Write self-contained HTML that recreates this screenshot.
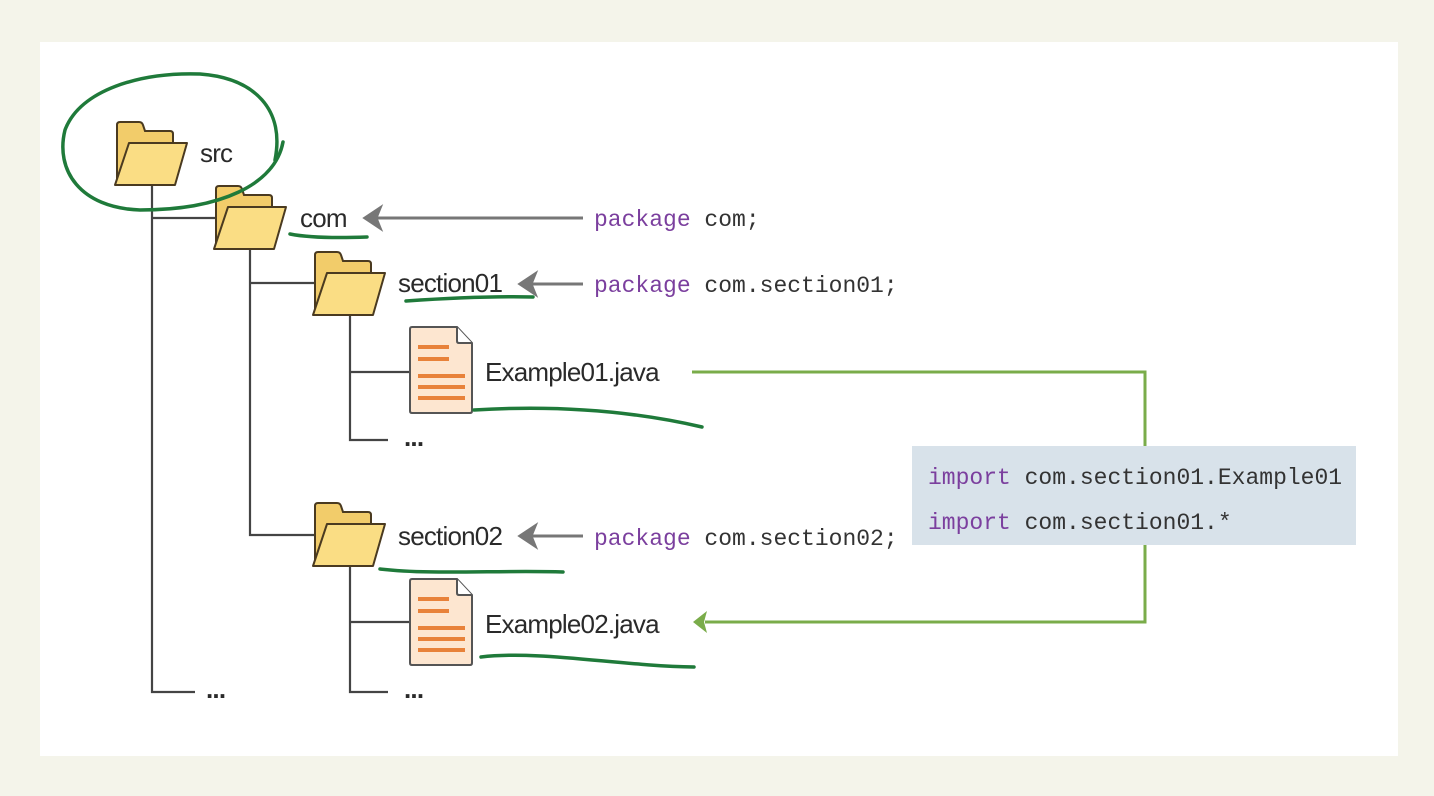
<!DOCTYPE html>
<html><head><meta charset="utf-8"><style>
html,body{margin:0;padding:0;background:#f4f4ea;}
svg{display:block}
.lb{font-family:"Liberation Sans",sans-serif;font-size:26px;fill:#2a2a2a;letter-spacing:-0.8px}
.cd{font-family:"Liberation Mono",monospace;font-size:23px;fill:#333}
.kw{fill:#7b3f9e}
</style></head><body>
<svg width="1434" height="796" viewBox="0 0 1434 796" xmlns="http://www.w3.org/2000/svg">
<defs>
<g id="fold">
<path d="M2 3 Q2 0 5 0 L24 0 Q27 0 28 3 L30 9 L55 9 Q58 9 58 12 L58 60 L2 60 Z" fill="#f2cc6a" stroke="#4a3a20" stroke-width="2"/>
<path d="M14 21 L72 21 L60 63 L0 63 Z" fill="#fadd84" stroke="#4a3a20" stroke-width="2" stroke-linejoin="round"/>
</g>
<g id="file">
<path d="M3 0 L48 0 L63 16 L63 84 Q63 86 61 86 L3 86 Q1 86 1 84 L1 2 Q1 0 3 0 Z" fill="#fde6d0" stroke="#555" stroke-width="2"/>
<path d="M48 0 L48 14 Q48 16 50 16 L63 16" fill="#fff" stroke="#555" stroke-width="2"/>
<g stroke="#e8823a" stroke-width="4">
<line x1="9" y1="20" x2="40" y2="20"/><line x1="9" y1="32" x2="40" y2="32"/>
<line x1="9" y1="49" x2="56" y2="49"/><line x1="9" y1="60" x2="56" y2="60"/><line x1="9" y1="71" x2="56" y2="71"/>
</g>
</g>
</defs>
<rect x="40" y="42" width="1358" height="714" fill="#fff"/>
<g stroke="#444" stroke-width="2.2" fill="none">
<path d="M152 184 V692 H195"/>
<path d="M152 218 H218"/>
<path d="M250 248 V535 H315"/>
<path d="M250 283 H315"/>
<path d="M350 314 V440 H388"/>
<path d="M350 372 H410"/>
<path d="M350 565 V692 H388"/>
<path d="M350 622 H410"/>
</g>
<use href="#fold" x="115" y="122"/>
<use href="#fold" x="214" y="186"/>
<use href="#fold" x="313" y="252"/>
<use href="#fold" x="313" y="503"/>
<use href="#file" x="409" y="327"/>
<use href="#file" x="409" y="579"/>
<text class="lb" x="200" y="162">src</text>
<text class="lb" x="300" y="227">com</text>
<text class="lb" x="398" y="292">section01</text>
<text class="lb" x="485" y="381">Example01.java</text>
<text class="lb" x="398" y="545">section02</text>
<text class="lb" x="485" y="633">Example02.java</text>
<text class="lb" x="206" y="698" font-weight="bold">...</text>
<text class="lb" x="404" y="446" font-weight="bold">...</text>
<text class="lb" x="404" y="698" font-weight="bold">...</text>
<g stroke="#777" stroke-width="3" fill="#777">
<line x1="583" y1="218" x2="375" y2="218"/><path d="M365 218 L380 208 L376 218 L380 228 Z"/>
<line x1="583" y1="284" x2="530" y2="284"/><path d="M520 284 L535 274 L531 284 L535 294 Z"/>
<line x1="583" y1="536" x2="530" y2="536"/><path d="M520 536 L535 526 L531 536 L535 546 Z"/>
</g>
<text class="cd" x="594" y="226"><tspan class="kw">package</tspan> com;</text>
<text class="cd" x="594" y="292"><tspan class="kw">package</tspan> com.section01;</text>
<text class="cd" x="594" y="545"><tspan class="kw">package</tspan> com.section02;</text>
<g stroke="#7aac4a" stroke-width="3" fill="none">
<path d="M692 372 H1145 V446"/>
<path d="M1145 545 V622 H705"/>
</g>
<path d="M693 622 L707 611 L704 622 L707 633 Z" fill="#7aac4a"/>
<rect x="912" y="446" width="444" height="99" fill="#d8e2ea"/>
<text class="cd" x="928" y="484"><tspan class="kw">import</tspan> com.section01.Example01</text>
<text class="cd" x="928" y="529"><tspan class="kw">import</tspan> com.section01.*</text>
<g stroke="#1f7a3a" stroke-width="3.5" fill="none" stroke-linecap="round">
<path d="M283 142 C275 185 220 210 140 210 C80 208 55 170 65 130 C80 90 140 72 200 74 C255 78 285 110 275 160"/>
<path d="M290 234 C310 238 340 238 367 237"/>
<path d="M406 301 C450 298 490 296 533 297"/>
<path d="M474 410 C540 406 620 408 702 427"/>
<path d="M380 569 C430 575 500 570 563 572"/>
<path d="M481 657 C540 650 620 666 694 667"/>
</g>
</svg>
</body></html>
